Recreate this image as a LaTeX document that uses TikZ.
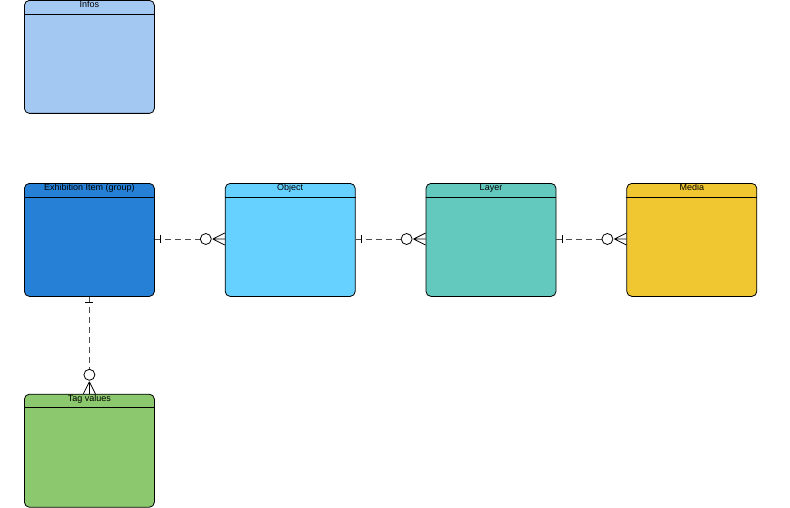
\documentclass[tikz,border=0pt]{standalone}
\usepackage{fontspec}
\setmainfont{Liberation Sans}
\usetikzlibrary{positioning}
\definecolor{infosblue}{HTML}{A3C8F2}
\definecolor{itemblue}{HTML}{2681D6}
\definecolor{objblue}{HTML}{66D1FF}
\definecolor{layergreen}{HTML}{63C8BD}
\definecolor{mediayellow}{HTML}{F0C631}
\definecolor{taggreen}{HTML}{8CC86D}
\tikzset{
  entity/.style={draw, line width=0.8pt, rounded corners=5pt, minimum width=130pt, minimum height=113pt, inner sep=0pt},
  relline/.style={dashed, dash pattern=on 6pt off 4pt, draw=black!70, line width=0.8pt},
}
% header line and title of an entity box
\newcommand{\entityhead}[2]{%
  \draw[line width=0.8pt] ([yshift=-14pt]#1.north west) -- ([yshift=-14pt]#1.north east);
  \node[anchor=north, inner sep=1pt, font=\fontsize{9}{10}\selectfont] at (#1.north) {#2};
}
\begin{document}
\begin{tikzpicture}[x=1pt,y=-1pt]
  \useasboundingbox (0,0) rectangle (790,508);
  \node[entity, fill=infosblue, anchor=north west] at (24,0) (infos) {};
  \node[entity, fill=itemblue, anchor=north west] at (24,183) (item) {};
  \node[entity, fill=objblue, right=70pt of item] (object) {};
  \node[entity, fill=layergreen, right=70pt of object] (layer) {};
  \node[entity, fill=mediayellow, right=70pt of layer] (media) {};
  \node[entity, fill=taggreen, below=97pt of item] (tags) {};
  \entityhead{infos}{Infos}
  \entityhead{item}{Exhibition Item (group)}
  \entityhead{object}{Object}
  \entityhead{layer}{Layer}
  \entityhead{media}{Media}
  \entityhead{tags}{Tag values}
  % one-to-many relations
  \foreach \a/\b in {item/object, object/layer, layer/media} {
    \draw[relline] ([yshift=-56pt]\a.north east) -- ([xshift=-24pt,yshift=-56pt]\b.north west);
    \draw[line width=0.8pt] ([xshift=6pt,yshift=-52pt]\a.north east) -- ([xshift=6pt,yshift=-60pt]\a.north east);
    \draw[line width=0.8pt, fill=white] ([xshift=-19pt,yshift=-56pt]\b.north west) circle (5.5pt);
    \draw[line width=0.8pt] ([xshift=-12pt,yshift=-56pt]\b.north west) -- ([yshift=-50pt]\b.north west)
          ([xshift=-12pt,yshift=-56pt]\b.north west) -- ([yshift=-56pt]\b.north west)
          ([xshift=-12pt,yshift=-56pt]\b.north west) -- ([yshift=-62pt]\b.north west);
  }
  \draw[relline] (item.south) -- ([yshift=24pt]tags.north);
  \draw[line width=0.8pt] ([xshift=-4pt,yshift=-6pt]item.south) -- ([xshift=4pt,yshift=-6pt]item.south);
  \draw[line width=0.8pt, fill=white] ([yshift=19pt]tags.north) circle (5.5pt);
  \draw[line width=0.8pt] ([yshift=12pt]tags.north) -- ([xshift=-6pt]tags.north)
        ([yshift=12pt]tags.north) -- (tags.north)
        ([yshift=12pt]tags.north) -- ([xshift=6pt]tags.north);
\end{tikzpicture}
\end{document}
